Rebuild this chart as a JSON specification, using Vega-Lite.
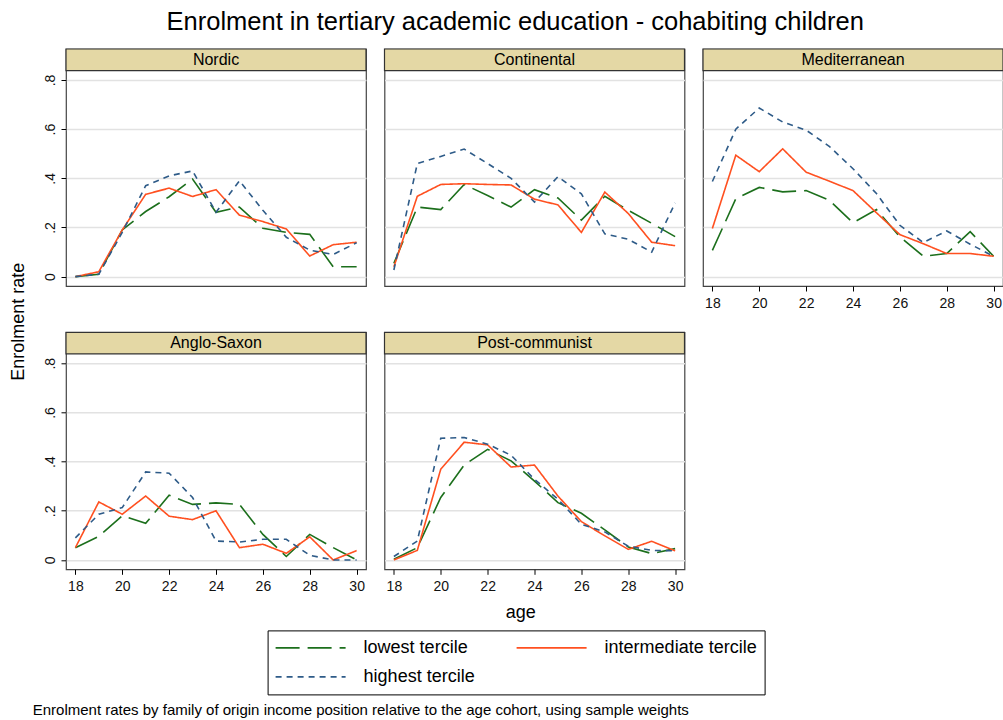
{
"$schema": "https://vega.github.io/schema/vega-lite/v6.json",
"padding": {"left": 9, "top": 10, "right": 0, "bottom": 0},
"title": {"text": "Enrolment in tertiary academic education - cohabiting children", "fontSize": 25.5, "fontWeight": "normal", "font": "Liberation Sans", "color": "#000000", "anchor": "middle", "dx": 8.5, "offset": 12},
"datasets": {"d": [
{"region":"Nordic","tercile":"lowest tercile","age":18,"rate":0},
{"region":"Nordic","tercile":"lowest tercile","age":19,"rate":0.01},
{"region":"Nordic","tercile":"lowest tercile","age":20,"rate":0.19},
{"region":"Nordic","tercile":"lowest tercile","age":21,"rate":0.265},
{"region":"Nordic","tercile":"lowest tercile","age":22,"rate":0.325},
{"region":"Nordic","tercile":"lowest tercile","age":23,"rate":0.397},
{"region":"Nordic","tercile":"lowest tercile","age":24,"rate":0.262},
{"region":"Nordic","tercile":"lowest tercile","age":25,"rate":0.283},
{"region":"Nordic","tercile":"lowest tercile","age":26,"rate":0.197},
{"region":"Nordic","tercile":"lowest tercile","age":27,"rate":0.18},
{"region":"Nordic","tercile":"lowest tercile","age":28,"rate":0.172},
{"region":"Nordic","tercile":"lowest tercile","age":29,"rate":0.04},
{"region":"Nordic","tercile":"lowest tercile","age":30,"rate":0.04},
{"region":"Nordic","tercile":"intermediate tercile","age":18,"rate":0},
{"region":"Nordic","tercile":"intermediate tercile","age":19,"rate":0.02},
{"region":"Nordic","tercile":"intermediate tercile","age":20,"rate":0.19},
{"region":"Nordic","tercile":"intermediate tercile","age":21,"rate":0.335},
{"region":"Nordic","tercile":"intermediate tercile","age":22,"rate":0.36},
{"region":"Nordic","tercile":"intermediate tercile","age":23,"rate":0.326},
{"region":"Nordic","tercile":"intermediate tercile","age":24,"rate":0.354},
{"region":"Nordic","tercile":"intermediate tercile","age":25,"rate":0.25},
{"region":"Nordic","tercile":"intermediate tercile","age":26,"rate":0.224},
{"region":"Nordic","tercile":"intermediate tercile","age":27,"rate":0.194},
{"region":"Nordic","tercile":"intermediate tercile","age":28,"rate":0.084},
{"region":"Nordic","tercile":"intermediate tercile","age":29,"rate":0.13},
{"region":"Nordic","tercile":"intermediate tercile","age":30,"rate":0.14},
{"region":"Nordic","tercile":"highest tercile","age":18,"rate":0},
{"region":"Nordic","tercile":"highest tercile","age":19,"rate":0.01},
{"region":"Nordic","tercile":"highest tercile","age":20,"rate":0.18},
{"region":"Nordic","tercile":"highest tercile","age":21,"rate":0.37},
{"region":"Nordic","tercile":"highest tercile","age":22,"rate":0.41},
{"region":"Nordic","tercile":"highest tercile","age":23,"rate":0.43},
{"region":"Nordic","tercile":"highest tercile","age":24,"rate":0.262},
{"region":"Nordic","tercile":"highest tercile","age":25,"rate":0.39},
{"region":"Nordic","tercile":"highest tercile","age":26,"rate":0.27},
{"region":"Nordic","tercile":"highest tercile","age":27,"rate":0.16},
{"region":"Nordic","tercile":"highest tercile","age":28,"rate":0.108},
{"region":"Nordic","tercile":"highest tercile","age":29,"rate":0.09},
{"region":"Nordic","tercile":"highest tercile","age":30,"rate":0.138},
{"region":"Continental","tercile":"lowest tercile","age":18,"rate":0.054},
{"region":"Continental","tercile":"lowest tercile","age":19,"rate":0.283},
{"region":"Continental","tercile":"lowest tercile","age":20,"rate":0.273},
{"region":"Continental","tercile":"lowest tercile","age":21,"rate":0.375},
{"region":"Continental","tercile":"lowest tercile","age":22,"rate":0.33},
{"region":"Continental","tercile":"lowest tercile","age":23,"rate":0.283},
{"region":"Continental","tercile":"lowest tercile","age":24,"rate":0.354},
{"region":"Continental","tercile":"lowest tercile","age":25,"rate":0.32},
{"region":"Continental","tercile":"lowest tercile","age":26,"rate":0.23},
{"region":"Continental","tercile":"lowest tercile","age":27,"rate":0.327},
{"region":"Continental","tercile":"lowest tercile","age":28,"rate":0.27},
{"region":"Continental","tercile":"lowest tercile","age":29,"rate":0.217},
{"region":"Continental","tercile":"lowest tercile","age":30,"rate":0.163},
{"region":"Continental","tercile":"intermediate tercile","age":18,"rate":0.04},
{"region":"Continental","tercile":"intermediate tercile","age":19,"rate":0.327},
{"region":"Continental","tercile":"intermediate tercile","age":20,"rate":0.375},
{"region":"Continental","tercile":"intermediate tercile","age":21,"rate":0.378},
{"region":"Continental","tercile":"intermediate tercile","age":22,"rate":0.375},
{"region":"Continental","tercile":"intermediate tercile","age":23,"rate":0.373},
{"region":"Continental","tercile":"intermediate tercile","age":24,"rate":0.315},
{"region":"Continental","tercile":"intermediate tercile","age":25,"rate":0.292},
{"region":"Continental","tercile":"intermediate tercile","age":26,"rate":0.18},
{"region":"Continental","tercile":"intermediate tercile","age":27,"rate":0.344},
{"region":"Continental","tercile":"intermediate tercile","age":28,"rate":0.257},
{"region":"Continental","tercile":"intermediate tercile","age":29,"rate":0.14},
{"region":"Continental","tercile":"intermediate tercile","age":30,"rate":0.126},
{"region":"Continental","tercile":"highest tercile","age":18,"rate":0.027},
{"region":"Continental","tercile":"highest tercile","age":19,"rate":0.46},
{"region":"Continental","tercile":"highest tercile","age":20,"rate":0.489},
{"region":"Continental","tercile":"highest tercile","age":21,"rate":0.519},
{"region":"Continental","tercile":"highest tercile","age":22,"rate":0.46},
{"region":"Continental","tercile":"highest tercile","age":23,"rate":0.4},
{"region":"Continental","tercile":"highest tercile","age":24,"rate":0.303},
{"region":"Continental","tercile":"highest tercile","age":25,"rate":0.407},
{"region":"Continental","tercile":"highest tercile","age":26,"rate":0.337},
{"region":"Continental","tercile":"highest tercile","age":27,"rate":0.174},
{"region":"Continental","tercile":"highest tercile","age":28,"rate":0.152},
{"region":"Continental","tercile":"highest tercile","age":29,"rate":0.1},
{"region":"Continental","tercile":"highest tercile","age":30,"rate":0.3},
{"region":"Mediterranean","tercile":"lowest tercile","age":18,"rate":0.107},
{"region":"Mediterranean","tercile":"lowest tercile","age":19,"rate":0.317},
{"region":"Mediterranean","tercile":"lowest tercile","age":20,"rate":0.363},
{"region":"Mediterranean","tercile":"lowest tercile","age":21,"rate":0.345},
{"region":"Mediterranean","tercile":"lowest tercile","age":22,"rate":0.35},
{"region":"Mediterranean","tercile":"lowest tercile","age":23,"rate":0.31},
{"region":"Mediterranean","tercile":"lowest tercile","age":24,"rate":0.219},
{"region":"Mediterranean","tercile":"lowest tercile","age":25,"rate":0.273},
{"region":"Mediterranean","tercile":"lowest tercile","age":26,"rate":0.162},
{"region":"Mediterranean","tercile":"lowest tercile","age":27,"rate":0.083},
{"region":"Mediterranean","tercile":"lowest tercile","age":28,"rate":0.094},
{"region":"Mediterranean","tercile":"lowest tercile","age":29,"rate":0.183},
{"region":"Mediterranean","tercile":"lowest tercile","age":30,"rate":0.083},
{"region":"Mediterranean","tercile":"intermediate tercile","age":18,"rate":0.196},
{"region":"Mediterranean","tercile":"intermediate tercile","age":19,"rate":0.494},
{"region":"Mediterranean","tercile":"intermediate tercile","age":20,"rate":0.427},
{"region":"Mediterranean","tercile":"intermediate tercile","age":21,"rate":0.52},
{"region":"Mediterranean","tercile":"intermediate tercile","age":22,"rate":0.425},
{"region":"Mediterranean","tercile":"intermediate tercile","age":23,"rate":0.388},
{"region":"Mediterranean","tercile":"intermediate tercile","age":24,"rate":0.35},
{"region":"Mediterranean","tercile":"intermediate tercile","age":25,"rate":0.26},
{"region":"Mediterranean","tercile":"intermediate tercile","age":26,"rate":0.171},
{"region":"Mediterranean","tercile":"intermediate tercile","age":27,"rate":0.134},
{"region":"Mediterranean","tercile":"intermediate tercile","age":28,"rate":0.094},
{"region":"Mediterranean","tercile":"intermediate tercile","age":29,"rate":0.094},
{"region":"Mediterranean","tercile":"intermediate tercile","age":30,"rate":0.083},
{"region":"Mediterranean","tercile":"highest tercile","age":18,"rate":0.387},
{"region":"Mediterranean","tercile":"highest tercile","age":19,"rate":0.6},
{"region":"Mediterranean","tercile":"highest tercile","age":20,"rate":0.686},
{"region":"Mediterranean","tercile":"highest tercile","age":21,"rate":0.629},
{"region":"Mediterranean","tercile":"highest tercile","age":22,"rate":0.596},
{"region":"Mediterranean","tercile":"highest tercile","age":23,"rate":0.529},
{"region":"Mediterranean","tercile":"highest tercile","age":24,"rate":0.439},
{"region":"Mediterranean","tercile":"highest tercile","age":25,"rate":0.338},
{"region":"Mediterranean","tercile":"highest tercile","age":26,"rate":0.209},
{"region":"Mediterranean","tercile":"highest tercile","age":27,"rate":0.139},
{"region":"Mediterranean","tercile":"highest tercile","age":28,"rate":0.186},
{"region":"Mediterranean","tercile":"highest tercile","age":29,"rate":0.132},
{"region":"Mediterranean","tercile":"highest tercile","age":30,"rate":0.083},
{"region":"Anglo-Saxon","tercile":"lowest tercile","age":18,"rate":0.05},
{"region":"Anglo-Saxon","tercile":"lowest tercile","age":19,"rate":0.096},
{"region":"Anglo-Saxon","tercile":"lowest tercile","age":20,"rate":0.18},
{"region":"Anglo-Saxon","tercile":"lowest tercile","age":21,"rate":0.149},
{"region":"Anglo-Saxon","tercile":"lowest tercile","age":22,"rate":0.263},
{"region":"Anglo-Saxon","tercile":"lowest tercile","age":23,"rate":0.226},
{"region":"Anglo-Saxon","tercile":"lowest tercile","age":24,"rate":0.232},
{"region":"Anglo-Saxon","tercile":"lowest tercile","age":25,"rate":0.226},
{"region":"Anglo-Saxon","tercile":"lowest tercile","age":26,"rate":0.104},
{"region":"Anglo-Saxon","tercile":"lowest tercile","age":27,"rate":0.014},
{"region":"Anglo-Saxon","tercile":"lowest tercile","age":28,"rate":0.104},
{"region":"Anglo-Saxon","tercile":"lowest tercile","age":29,"rate":0.05},
{"region":"Anglo-Saxon","tercile":"lowest tercile","age":30,"rate":0},
{"region":"Anglo-Saxon","tercile":"intermediate tercile","age":18,"rate":0.05},
{"region":"Anglo-Saxon","tercile":"intermediate tercile","age":19,"rate":0.236},
{"region":"Anglo-Saxon","tercile":"intermediate tercile","age":20,"rate":0.186},
{"region":"Anglo-Saxon","tercile":"intermediate tercile","age":21,"rate":0.26},
{"region":"Anglo-Saxon","tercile":"intermediate tercile","age":22,"rate":0.178},
{"region":"Anglo-Saxon","tercile":"intermediate tercile","age":23,"rate":0.164},
{"region":"Anglo-Saxon","tercile":"intermediate tercile","age":24,"rate":0.2},
{"region":"Anglo-Saxon","tercile":"intermediate tercile","age":25,"rate":0.05},
{"region":"Anglo-Saxon","tercile":"intermediate tercile","age":26,"rate":0.064},
{"region":"Anglo-Saxon","tercile":"intermediate tercile","age":27,"rate":0.027},
{"region":"Anglo-Saxon","tercile":"intermediate tercile","age":28,"rate":0.094},
{"region":"Anglo-Saxon","tercile":"intermediate tercile","age":29,"rate":0},
{"region":"Anglo-Saxon","tercile":"intermediate tercile","age":30,"rate":0.038},
{"region":"Anglo-Saxon","tercile":"highest tercile","age":18,"rate":0.09},
{"region":"Anglo-Saxon","tercile":"highest tercile","age":19,"rate":0.186},
{"region":"Anglo-Saxon","tercile":"highest tercile","age":20,"rate":0.213},
{"region":"Anglo-Saxon","tercile":"highest tercile","age":21,"rate":0.358},
{"region":"Anglo-Saxon","tercile":"highest tercile","age":22,"rate":0.353},
{"region":"Anglo-Saxon","tercile":"highest tercile","age":23,"rate":0.254},
{"region":"Anglo-Saxon","tercile":"highest tercile","age":24,"rate":0.077},
{"region":"Anglo-Saxon","tercile":"highest tercile","age":25,"rate":0.073},
{"region":"Anglo-Saxon","tercile":"highest tercile","age":26,"rate":0.084},
{"region":"Anglo-Saxon","tercile":"highest tercile","age":27,"rate":0.084},
{"region":"Anglo-Saxon","tercile":"highest tercile","age":28,"rate":0.019},
{"region":"Anglo-Saxon","tercile":"highest tercile","age":29,"rate":0},
{"region":"Anglo-Saxon","tercile":"highest tercile","age":30,"rate":0},
{"region":"Post-communist","tercile":"lowest tercile","age":18,"rate":0.003},
{"region":"Post-communist","tercile":"lowest tercile","age":19,"rate":0.05},
{"region":"Post-communist","tercile":"lowest tercile","age":20,"rate":0.254},
{"region":"Post-communist","tercile":"lowest tercile","age":21,"rate":0.386},
{"region":"Post-communist","tercile":"lowest tercile","age":22,"rate":0.45},
{"region":"Post-communist","tercile":"lowest tercile","age":23,"rate":0.403},
{"region":"Post-communist","tercile":"lowest tercile","age":24,"rate":0.321},
{"region":"Post-communist","tercile":"lowest tercile","age":25,"rate":0.233},
{"region":"Post-communist","tercile":"lowest tercile","age":26,"rate":0.19},
{"region":"Post-communist","tercile":"lowest tercile","age":27,"rate":0.122},
{"region":"Post-communist","tercile":"lowest tercile","age":28,"rate":0.053},
{"region":"Post-communist","tercile":"lowest tercile","age":29,"rate":0.026},
{"region":"Post-communist","tercile":"lowest tercile","age":30,"rate":0.046},
{"region":"Post-communist","tercile":"intermediate tercile","age":18,"rate":0},
{"region":"Post-communist","tercile":"intermediate tercile","age":19,"rate":0.039},
{"region":"Post-communist","tercile":"intermediate tercile","age":20,"rate":0.369},
{"region":"Post-communist","tercile":"intermediate tercile","age":21,"rate":0.479},
{"region":"Post-communist","tercile":"intermediate tercile","age":22,"rate":0.468},
{"region":"Post-communist","tercile":"intermediate tercile","age":23,"rate":0.378},
{"region":"Post-communist","tercile":"intermediate tercile","age":24,"rate":0.386},
{"region":"Post-communist","tercile":"intermediate tercile","age":25,"rate":0.26},
{"region":"Post-communist","tercile":"intermediate tercile","age":26,"rate":0.156},
{"region":"Post-communist","tercile":"intermediate tercile","age":27,"rate":0.098},
{"region":"Post-communist","tercile":"intermediate tercile","age":28,"rate":0.043},
{"region":"Post-communist","tercile":"intermediate tercile","age":29,"rate":0.076},
{"region":"Post-communist","tercile":"intermediate tercile","age":30,"rate":0.037},
{"region":"Post-communist","tercile":"highest tercile","age":18,"rate":0.014},
{"region":"Post-communist","tercile":"highest tercile","age":19,"rate":0.077},
{"region":"Post-communist","tercile":"highest tercile","age":20,"rate":0.495},
{"region":"Post-communist","tercile":"highest tercile","age":21,"rate":0.498},
{"region":"Post-communist","tercile":"highest tercile","age":22,"rate":0.471},
{"region":"Post-communist","tercile":"highest tercile","age":23,"rate":0.426},
{"region":"Post-communist","tercile":"highest tercile","age":24,"rate":0.328},
{"region":"Post-communist","tercile":"highest tercile","age":25,"rate":0.247},
{"region":"Post-communist","tercile":"highest tercile","age":26,"rate":0.145},
{"region":"Post-communist","tercile":"highest tercile","age":27,"rate":0.114},
{"region":"Post-communist","tercile":"highest tercile","age":28,"rate":0.056},
{"region":"Post-communist","tercile":"highest tercile","age":29,"rate":0.039},
{"region":"Post-communist","tercile":"highest tercile","age":30,"rate":0.037}
]},
"data": {"name": "d"},
"columns": 3,
"spacing": {"row": 46.3, "column": 18.5},
"bounds": "flush",
"concat": [
 {"width": 300, "height": 237, "layer": [
  {"transform": [{"filter": "datum.region === 'Nordic'"}], "mark": {"type": "line", "strokeWidth": 1.6},
   "encoding": {
    "x": {"field": "age", "type": "quantitative", "scale": {"domain": [17.6, 30.4], "nice": false, "zero": false}, "axis": null},
    "y": {"field": "rate", "type": "quantitative", "scale": {"domain": [-0.038, 0.926], "nice": false, "zero": false},
          "axis": {"title": null, "values": [0, 0.2, 0.4, 0.6, 0.8], "labelExpr": "datum.value == 0 ? '0' : replace(format(datum.value, '.1f'), '0.', '.')", "labelAngle": 270, "labelAlign": "center", "labelBaseline": "bottom", "labelPadding": 4, "tickSize": 5, "grid": true}},
    "color": {"field": "tercile", "type": "nominal", "scale": {"domain": ["lowest tercile", "intermediate tercile", "highest tercile"], "range": ["#1c6f1c", "#ff5020", "#2e5b88"]},
              "legend": {"title": null, "orient": "none", "legendX": 201.6, "legendY": 581.4, "columns": 2, "direction": "horizontal"}},
    "strokeDash": {"field": "tercile", "type": "nominal", "scale": {"domain": ["lowest tercile", "intermediate tercile", "highest tercile"], "range": [[24, 8], [1, 0], [6, 5]]},
              "legend": {"title": null, "orient": "none", "legendX": 201.6, "legendY": 581.4, "columns": 2, "direction": "horizontal"}}
   }},
  {"data": {"values": [{"region": "Nordic"}]}, "mark": {"type": "rect", "fill": "#e4d8a5", "stroke": "#333333", "strokeWidth": 1.2},
   "encoding": {"y": {"datum": 0.838, "type": "quantitative"}, "y2": {"datum": 0.926}}},
  {"data": {"values": [{"region": "Nordic"}]}, "mark": {"type": "text", "fontSize": 16, "color": "#000000", "baseline": "middle"},
   "encoding": {"text": {"field": "region"}, "y": {"datum": 0.882, "type": "quantitative"}}}
 ]},
 {"width": 300, "height": 237, "layer": [
  {"transform": [{"filter": "datum.region === 'Continental'"}], "mark": {"type": "line", "strokeWidth": 1.6},
   "encoding": {
    "x": {"field": "age", "type": "quantitative", "scale": {"domain": [17.6, 30.4], "nice": false, "zero": false}, "axis": null},
    "y": {"field": "rate", "type": "quantitative", "scale": {"domain": [-0.038, 0.926], "nice": false, "zero": false},
          "axis": {"title": null, "values": [0, 0.2, 0.4, 0.6, 0.8], "labels": false, "ticks": false, "grid": true}},
    "color": {"field": "tercile", "type": "nominal", "scale": {"domain": ["lowest tercile", "intermediate tercile", "highest tercile"], "range": ["#1c6f1c", "#ff5020", "#2e5b88"]}, "legend": null},
    "strokeDash": {"field": "tercile", "type": "nominal", "scale": {"domain": ["lowest tercile", "intermediate tercile", "highest tercile"], "range": [[24, 8], [1, 0], [6, 5]]}, "legend": null}
   }},
  {"data": {"values": [{"region": "Continental"}]}, "mark": {"type": "rect", "fill": "#e4d8a5", "stroke": "#333333", "strokeWidth": 1.2},
   "encoding": {"y": {"datum": 0.838, "type": "quantitative"}, "y2": {"datum": 0.926}}},
  {"data": {"values": [{"region": "Continental"}]}, "mark": {"type": "text", "fontSize": 16, "color": "#000000", "baseline": "middle"},
   "encoding": {"text": {"field": "region"}, "y": {"datum": 0.882, "type": "quantitative"}}}
 ]},
 {"width": 300, "height": 237, "layer": [
  {"transform": [{"filter": "datum.region === 'Mediterranean'"}], "mark": {"type": "line", "strokeWidth": 1.6},
   "encoding": {
    "x": {"field": "age", "type": "quantitative", "scale": {"domain": [17.6, 30.4], "nice": false, "zero": false},
          "axis": {"title": null, "values": [18, 20, 22, 24, 26, 28, 30], "grid": false, "tickSize": 5, "labelPadding": 5}},
    "y": {"field": "rate", "type": "quantitative", "scale": {"domain": [-0.038, 0.926], "nice": false, "zero": false},
          "axis": {"title": null, "values": [0, 0.2, 0.4, 0.6, 0.8], "labels": false, "ticks": false, "grid": true}},
    "color": {"field": "tercile", "type": "nominal", "scale": {"domain": ["lowest tercile", "intermediate tercile", "highest tercile"], "range": ["#1c6f1c", "#ff5020", "#2e5b88"]}, "legend": null},
    "strokeDash": {"field": "tercile", "type": "nominal", "scale": {"domain": ["lowest tercile", "intermediate tercile", "highest tercile"], "range": [[24, 8], [1, 0], [6, 5]]}, "legend": null}
   }},
  {"data": {"values": [{"region": "Mediterranean"}]}, "mark": {"type": "rect", "fill": "#e4d8a5", "stroke": "#333333", "strokeWidth": 1.2},
   "encoding": {"y": {"datum": 0.838, "type": "quantitative"}, "y2": {"datum": 0.926}}},
  {"data": {"values": [{"region": "Mediterranean"}]}, "mark": {"type": "text", "fontSize": 16, "color": "#000000", "baseline": "middle"},
   "encoding": {"text": {"field": "region"}, "y": {"datum": 0.882, "type": "quantitative"}}}
 ]},
 {"width": 300, "height": 237, "layer": [
  {"transform": [{"filter": "datum.region === 'Anglo-Saxon'"}], "mark": {"type": "line", "strokeWidth": 1.6},
   "encoding": {
    "x": {"field": "age", "type": "quantitative", "scale": {"domain": [17.6, 30.4], "nice": false, "zero": false},
          "axis": {"title": "age", "titleX": 454.3, "titleY": 48, "titleAlign": "center", "titleBaseline": "alphabetic", "values": [18, 20, 22, 24, 26, 28, 30], "grid": false, "tickSize": 5, "labelPadding": 5}},
    "y": {"field": "rate", "type": "quantitative", "scale": {"domain": [-0.038, 0.926], "nice": false, "zero": false},
          "axis": {"title": "Enrolment rate", "titleX": -47.2, "titleY": -11, "titleAngle": 270, "titleAlign": "center", "titleBaseline": "middle", "values": [0, 0.2, 0.4, 0.6, 0.8], "labelExpr": "datum.value == 0 ? '0' : replace(format(datum.value, '.1f'), '0.', '.')", "labelAngle": 270, "labelAlign": "center", "labelBaseline": "bottom", "labelPadding": 4, "tickSize": 5, "grid": true}},
    "color": {"field": "tercile", "type": "nominal", "scale": {"domain": ["lowest tercile", "intermediate tercile", "highest tercile"], "range": ["#1c6f1c", "#ff5020", "#2e5b88"]}, "legend": null},
    "strokeDash": {"field": "tercile", "type": "nominal", "scale": {"domain": ["lowest tercile", "intermediate tercile", "highest tercile"], "range": [[24, 8], [1, 0], [6, 5]]}, "legend": null}
   }},
  {"data": {"values": [{"region": "Anglo-Saxon"}]}, "mark": {"type": "rect", "fill": "#e4d8a5", "stroke": "#333333", "strokeWidth": 1.2},
   "encoding": {"y": {"datum": 0.838, "type": "quantitative"}, "y2": {"datum": 0.926}}},
  {"data": {"values": [{"region": "Anglo-Saxon"}]}, "mark": {"type": "text", "fontSize": 16, "color": "#000000", "baseline": "middle"},
   "encoding": {"text": {"field": "region"}, "y": {"datum": 0.882, "type": "quantitative"}}}
 ]},
 {"width": 300, "height": 237, "layer": [
  {"transform": [{"filter": "datum.region === 'Post-communist'"}], "mark": {"type": "line", "strokeWidth": 1.6},
   "encoding": {
    "x": {"field": "age", "type": "quantitative", "scale": {"domain": [17.6, 30.4], "nice": false, "zero": false},
          "axis": {"title": "Enrolment rates by family of origin income position relative to the age cohort, using sample weights", "titleFontSize": 15, "titleX": -352.3, "titleY": 140, "titleAlign": "left", "titleBaseline": "middle", "values": [18, 20, 22, 24, 26, 28, 30], "grid": false, "tickSize": 5, "labelPadding": 5}},
    "y": {"field": "rate", "type": "quantitative", "scale": {"domain": [-0.038, 0.926], "nice": false, "zero": false},
          "axis": {"title": null, "values": [0, 0.2, 0.4, 0.6, 0.8], "labels": false, "ticks": false, "grid": true}},
    "color": {"field": "tercile", "type": "nominal", "scale": {"domain": ["lowest tercile", "intermediate tercile", "highest tercile"], "range": ["#1c6f1c", "#ff5020", "#2e5b88"]}, "legend": null},
    "strokeDash": {"field": "tercile", "type": "nominal", "scale": {"domain": ["lowest tercile", "intermediate tercile", "highest tercile"], "range": [[24, 8], [1, 0], [6, 5]]}, "legend": null}
   }},
  {"data": {"values": [{"region": "Post-communist"}]}, "mark": {"type": "rect", "fill": "#e4d8a5", "stroke": "#333333", "strokeWidth": 1.2},
   "encoding": {"y": {"datum": 0.838, "type": "quantitative"}, "y2": {"datum": 0.926}}},
  {"data": {"values": [{"region": "Post-communist"}]}, "mark": {"type": "text", "fontSize": 16, "color": "#000000", "baseline": "middle"},
   "encoding": {"text": {"field": "region"}, "y": {"datum": 0.882, "type": "quantitative"}}}
 ]}
],
"config": {
 "font": "Liberation Sans",
 "view": {"stroke": "#444444", "strokeWidth": 1.2},
 "axis": {"labelFont": "Liberation Sans", "titleFont": "Liberation Sans", "labelFontSize": 14, "titleFontSize": 18, "titleFontWeight": "normal", "labelColor": "#111111", "titleColor": "#000000", "tickColor": "#000000", "domain": false, "gridColor": "#e2e2e2", "gridWidth": 1.6},
 "legend": {"labelFont": "Liberation Sans", "labelFontSize": 18, "labelColor": "#000000", "strokeColor": "#000000", "padding": 7, "symbolType": "stroke", "symbolSize": 4900, "symbolStrokeWidth": 1.6, "labelOffset": 17, "columnPadding": 40, "rowPadding": 8, "clipHeight": 21}
}
}
